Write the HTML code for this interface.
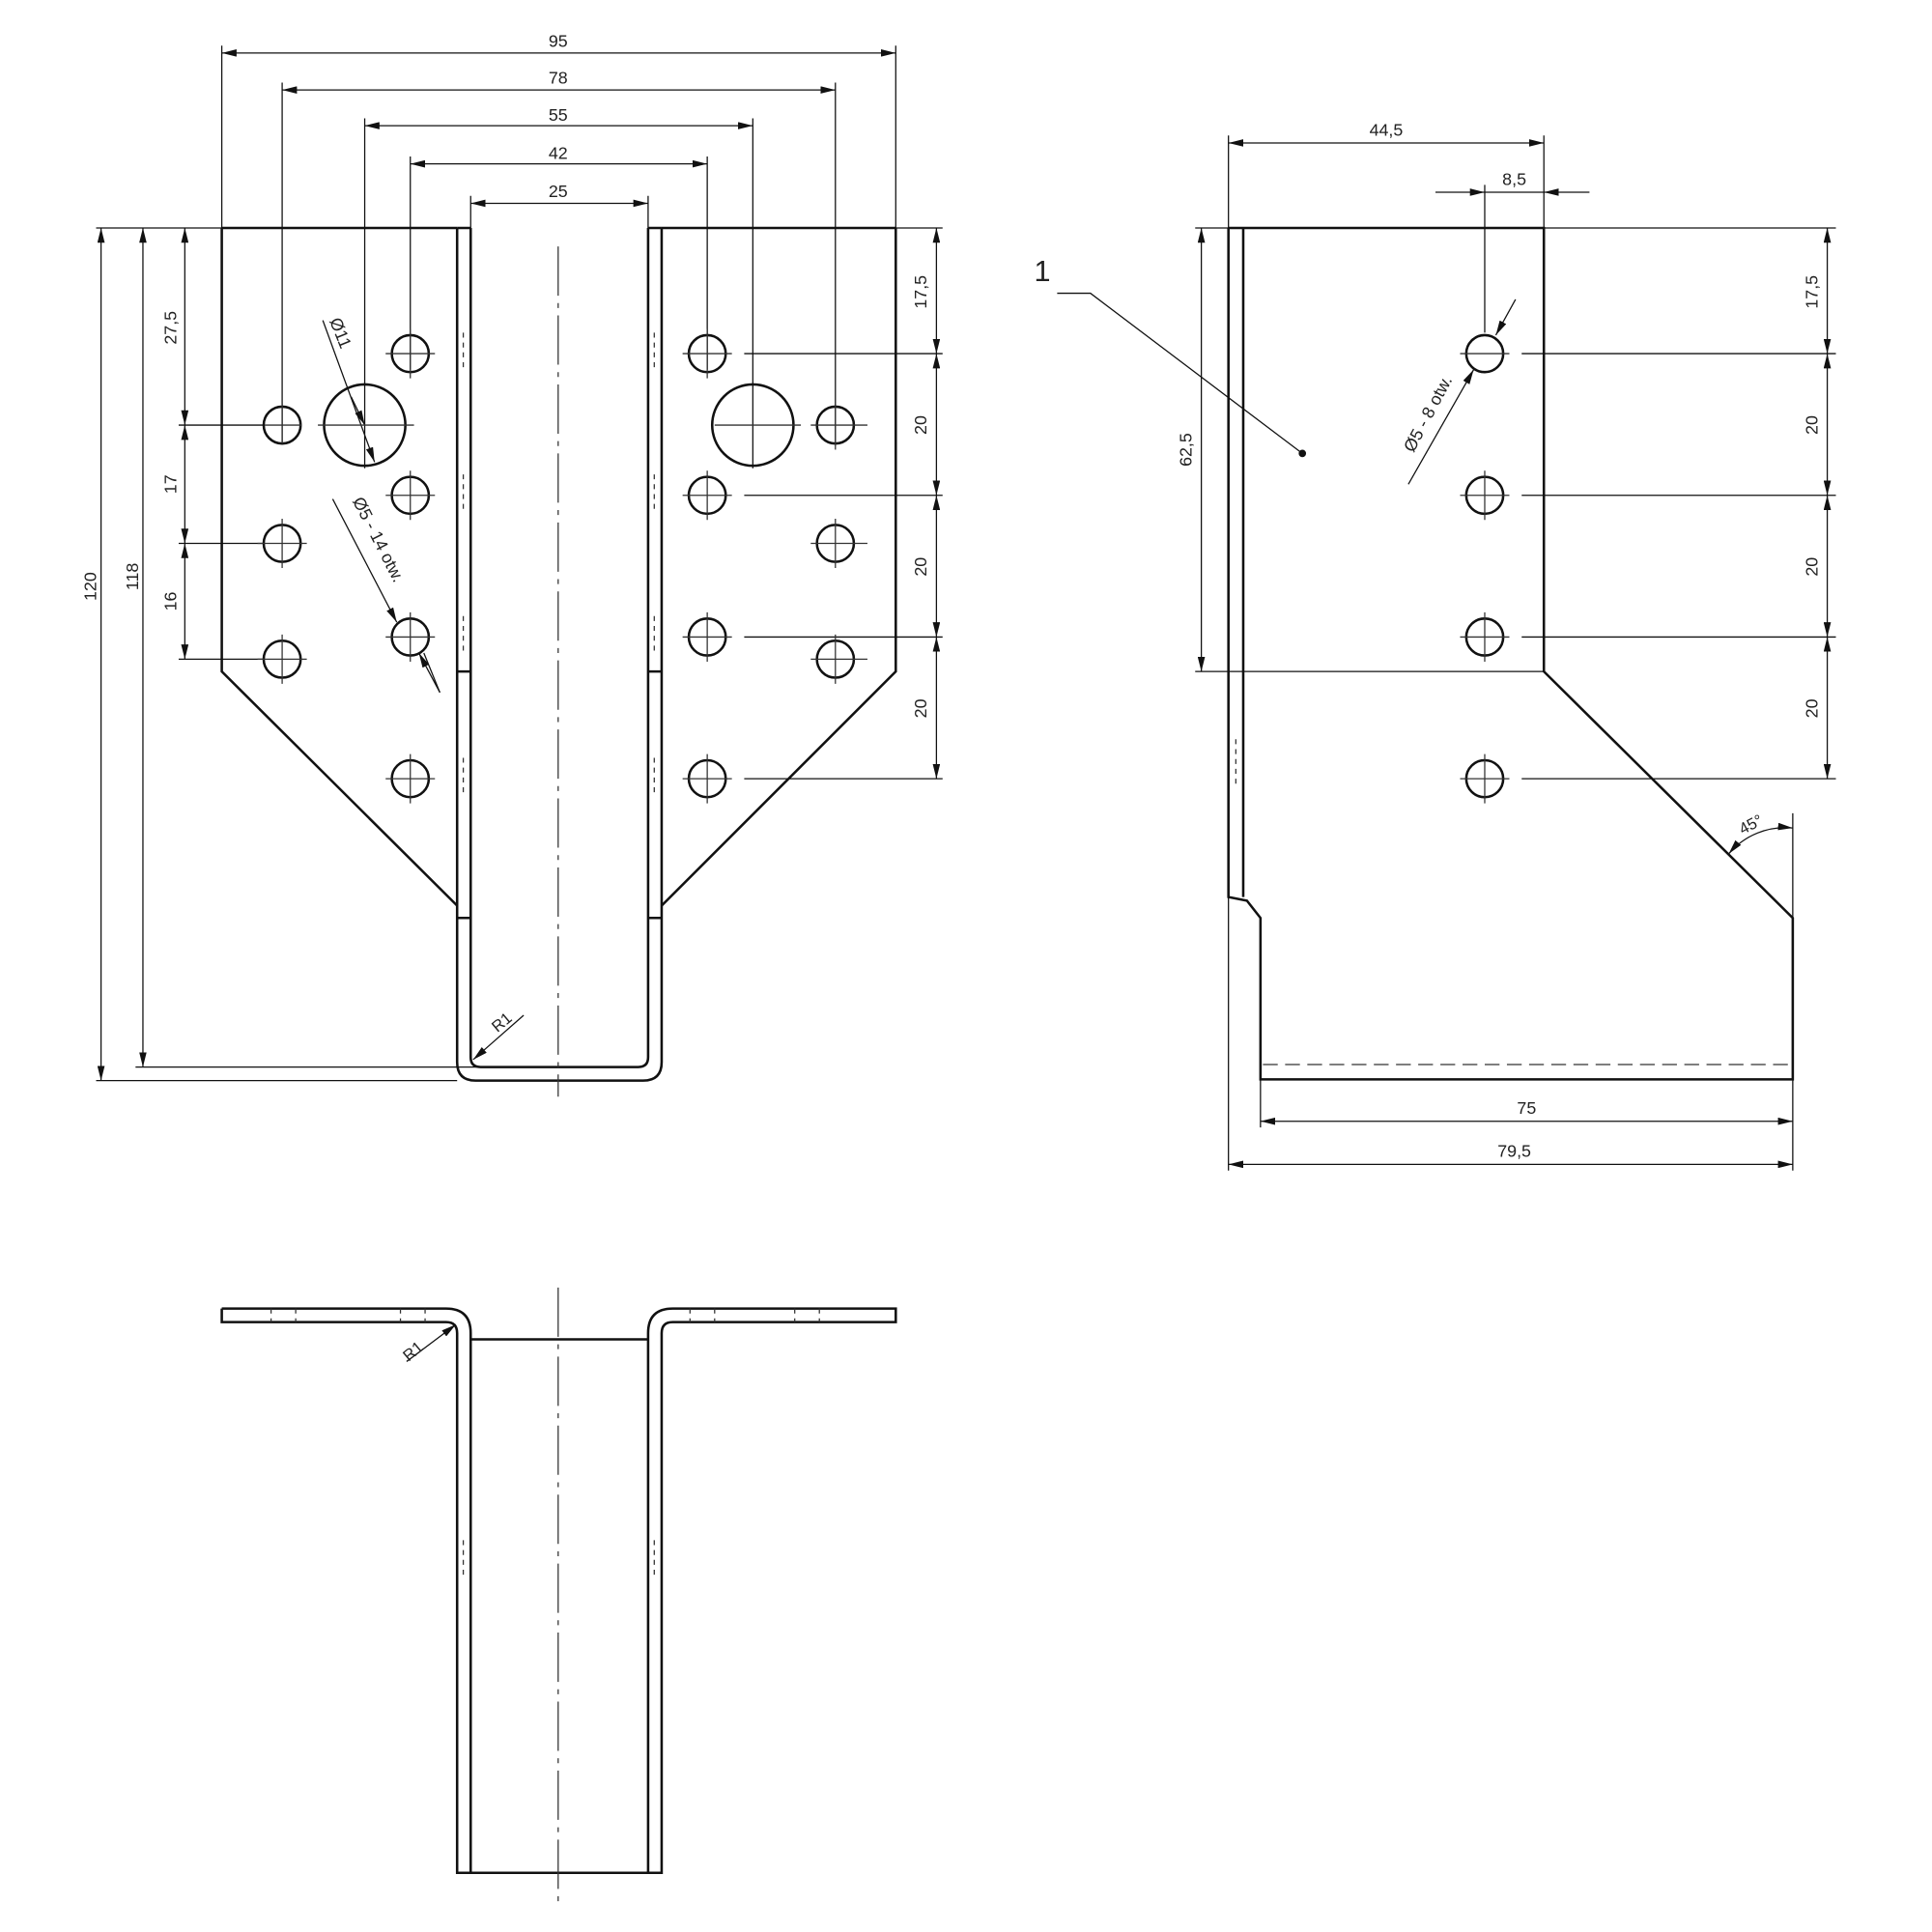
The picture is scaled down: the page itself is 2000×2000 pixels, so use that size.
<!DOCTYPE html>
<html><head><meta charset="utf-8"><style>html,body{margin:0;padding:0;background:#fff}svg{display:block}</style></head>
<body>
<svg width="2000" height="2000" viewBox="0 0 1568 1568" xmlns="http://www.w3.org/2000/svg" font-family="Liberation Sans, DejaVu Sans, sans-serif" font-size="14" fill="none" stroke="#111">
<defs>
<marker id="a" viewBox="0 0 12 6" refX="12" refY="3" markerWidth="12" markerHeight="6" markerUnits="userSpaceOnUse" orient="auto-start-reverse"><path d="M0,0L12,3L0,6z" fill="#111" stroke="none"/></marker>
</defs>
<g stroke-width="1">
<!-- top dims front -->
<g marker-start="url(#a)" marker-end="url(#a)">
<line x1="180" y1="43" x2="727" y2="43"/>
<line x1="229" y1="73" x2="678" y2="73"/>
<line x1="296" y1="102" x2="611" y2="102"/>
<line x1="333" y1="133" x2="574" y2="133"/>
<line x1="382" y1="165" x2="526" y2="165"/>
<line x1="82" y1="185" x2="82" y2="877"/>
<line x1="116" y1="185" x2="116" y2="866"/>
<line x1="150" y1="185" x2="150" y2="345"/>
<line x1="150" y1="345" x2="150" y2="441"/>
<line x1="150" y1="441" x2="150" y2="535"/>
<line x1="760" y1="185" x2="760" y2="287"/>
<line x1="760" y1="287" x2="760" y2="402"/>
<line x1="760" y1="402" x2="760" y2="517"/>
<line x1="760" y1="517" x2="760" y2="632"/>
<!-- side -->
<line x1="997" y1="116" x2="1253" y2="116"/>
<line x1="975" y1="185" x2="975" y2="545"/>
<line x1="1483" y1="185" x2="1483" y2="287"/>
<line x1="1483" y1="287" x2="1483" y2="402"/>
<line x1="1483" y1="402" x2="1483" y2="517"/>
<line x1="1483" y1="517" x2="1483" y2="632"/>
<line x1="1023" y1="910" x2="1455" y2="910"/>
<line x1="997" y1="945" x2="1455" y2="945"/>
</g>
<!-- extension lines -->
<path d="M180,37V185M727,37V185M229,67V360M678,67V360M296,96V380M611,96V380M333,127V300M574,127V300M382,159V185M526,159V185
M78,185H180M110,185H180M145,185H180M78,877H371M110,866H390M145,345H215M145,441H215M145,535H215
M727,185H765M604,287H765M604,402H765M604,517H765M604,632H765
M997,110V950M1253,110V185M1455,660V950M1023,876V915
M970,185H997M970,545H1253M1235,287H1490M1235,402H1490M1235,517H1490M1235,632H1490M1253,185H1490"/>
<!-- 8,5 -->
<line x1="1165" y1="156" x2="1205" y2="156" marker-end="url(#a)"/>
<line x1="1290" y1="156" x2="1253" y2="156" marker-end="url(#a)"/>
<line x1="1205" y1="150" x2="1205" y2="270"/>
<line x1="1205" y1="156" x2="1253" y2="156"/>
<!-- leaders -->
<line x1="262" y1="260" x2="304" y2="375" marker-end="url(#a)"/>
<line x1="285" y1="322" x2="296" y2="345" marker-end="url(#a)" />
<line x1="270" y1="405" x2="322" y2="505" marker-end="url(#a)"/>
<line x1="357" y1="562" x2="344" y2="530"/>
<line x1="357" y1="562" x2="340" y2="530" marker-end="url(#a)"/>
<line x1="1143" y1="393" x2="1196" y2="300" marker-end="url(#a)"/>
<line x1="1230" y1="243" x2="1214" y2="272" marker-end="url(#a)"/>
<line x1="425" y1="824" x2="384" y2="860" marker-end="url(#a)"/>
<line x1="330" y1="1105" x2="370" y2="1075" marker-end="url(#a)"/>
<path d="M858,238H885L1057,368"/>
<circle cx="1057" cy="368" r="2.5" fill="#111"/>
<path d="M1403,693A60,60 0 0 1 1455,672" marker-start="url(#a)" marker-end="url(#a)"/>
</g>
<!-- outlines -->
<g stroke-width="2">
<path d="M180,185H371M537,185H727M180,185V545L371,735M727,185V545L537,735"/>
<path d="M371,185V862Q371,877 386,877H522Q537,877 537,862V185M382,185V858Q382,866 390,866H518Q526,866 526,858V185M371,185H382M526,185H537"/>
<path d="M371,545H382M526,545H537M371,745H382M526,745H537"/>
<circle cx="296" cy="345" r="33"/><circle cx="611" cy="345" r="33"/>
<g>
<circle cx="229" cy="345" r="15"/><circle cx="229" cy="441" r="15"/><circle cx="229" cy="535" r="15"/>
<circle cx="333" cy="287" r="15"/><circle cx="333" cy="402" r="15"/><circle cx="333" cy="517" r="15"/><circle cx="333" cy="632" r="15"/>
<circle cx="574" cy="287" r="15"/><circle cx="574" cy="402" r="15"/><circle cx="574" cy="517" r="15"/><circle cx="574" cy="632" r="15"/>
<circle cx="678" cy="345" r="15"/><circle cx="678" cy="441" r="15"/><circle cx="678" cy="535" r="15"/>
<circle cx="1205" cy="287" r="15"/><circle cx="1205" cy="402" r="15"/><circle cx="1205" cy="517" r="15"/><circle cx="1205" cy="632" r="15"/>
</g>
<!-- side -->
<path d="M997,185H1253V545L1455,745V876H1023V745L1012,731L997,728V185M1009,185V728"/>
<!-- bottom view -->
<path d="M180,1062H362Q382,1062 382,1082V1520M180,1062V1073H362Q371,1073 371,1082V1520H537V1082Q537,1073 546,1073H727V1062H546Q526,1062 526,1082V1520M382,1087H526"/>
</g>
<!-- center lines & hidden -->
<g stroke-width="1" stroke="#333">
<path d="M453,200V890M453,1045V1545" stroke-dasharray="40,6,4,6"/>
<path d="M1025,864H1455" stroke-dasharray="12,6"/>
<path d="M215,345H245M229,328V360M209,441H249M229,421V461M209,535H249M229,515V555M313,287H353M333,267V307M313,402H353M333,382V422M313,517H353M333,497V537M313,632H353M333,612V652M554,287H594M574,267V307M554,402H594M574,382V422M554,517H594M574,497V537M554,632H594M574,612V652M658,345H704M678,325V365M658,441H704M678,421V461M658,535H704M678,515V555M258,345H336M580,345H650M1185,287H1225M1185,402H1225M1205,382V422M1185,517H1225M1205,497V537M1185,632H1225M1205,612V652"/>
<path d="M376,270V300M376,385V415M376,500V530M376,615V645M531,270V300M531,385V415M531,500V530M531,615V645M1003,600V640M376,1250V1280M531,1250V1280M220,1062V1073M240,1062V1073M325,1062V1073M345,1062V1073M560,1062V1073M580,1062V1073M645,1062V1073M665,1062V1073" stroke-dasharray="4,4"/>
</g>
<!-- text -->
<g fill="#222" stroke="none" text-anchor="middle">
<text x="453" y="38">95</text><text x="453" y="68">78</text><text x="453" y="98">55</text><text x="453" y="129">42</text><text x="453" y="160">25</text>
<text transform="translate(78,476) rotate(-90)">120</text>
<text transform="translate(112,468) rotate(-90)">118</text>
<text transform="translate(143,266) rotate(-90)">27,5</text>
<text transform="translate(143,393) rotate(-90)">17</text>
<text transform="translate(143,488) rotate(-90)">16</text>
<text transform="translate(752,237) rotate(-90)">17,5</text>
<text transform="translate(752,345) rotate(-90)">20</text>
<text transform="translate(752,460) rotate(-90)">20</text>
<text transform="translate(752,575) rotate(-90)">20</text>
<text transform="translate(1475,237) rotate(-90)">17,5</text>
<text transform="translate(1475,345) rotate(-90)">20</text>
<text transform="translate(1475,460) rotate(-90)">20</text>
<text transform="translate(1475,575) rotate(-90)">20</text>
<text transform="translate(967,365) rotate(-90)">62,5</text>
<text x="1125" y="110">44,5</text><text x="1229" y="150">8,5</text>
<text x="1239" y="904">75</text><text x="1229" y="939">79,5</text>
<text transform="translate(272,272) rotate(68)">Ø11</text>
<text transform="translate(303,440) rotate(63)">Ø5 - 14 otw.</text>
<text transform="translate(1163,338) rotate(-62)">Ø5 - 8 otw.</text>
<text transform="translate(1423,673) rotate(-28)" font-size="13">45°</text>
<text transform="translate(410,833) rotate(-40)" font-size="13">R1</text>
<text transform="translate(338,1100) rotate(-40)" font-size="13">R1</text>
<text x="846" y="228" font-size="24">1</text>
</g>
</svg>
</body></html>
